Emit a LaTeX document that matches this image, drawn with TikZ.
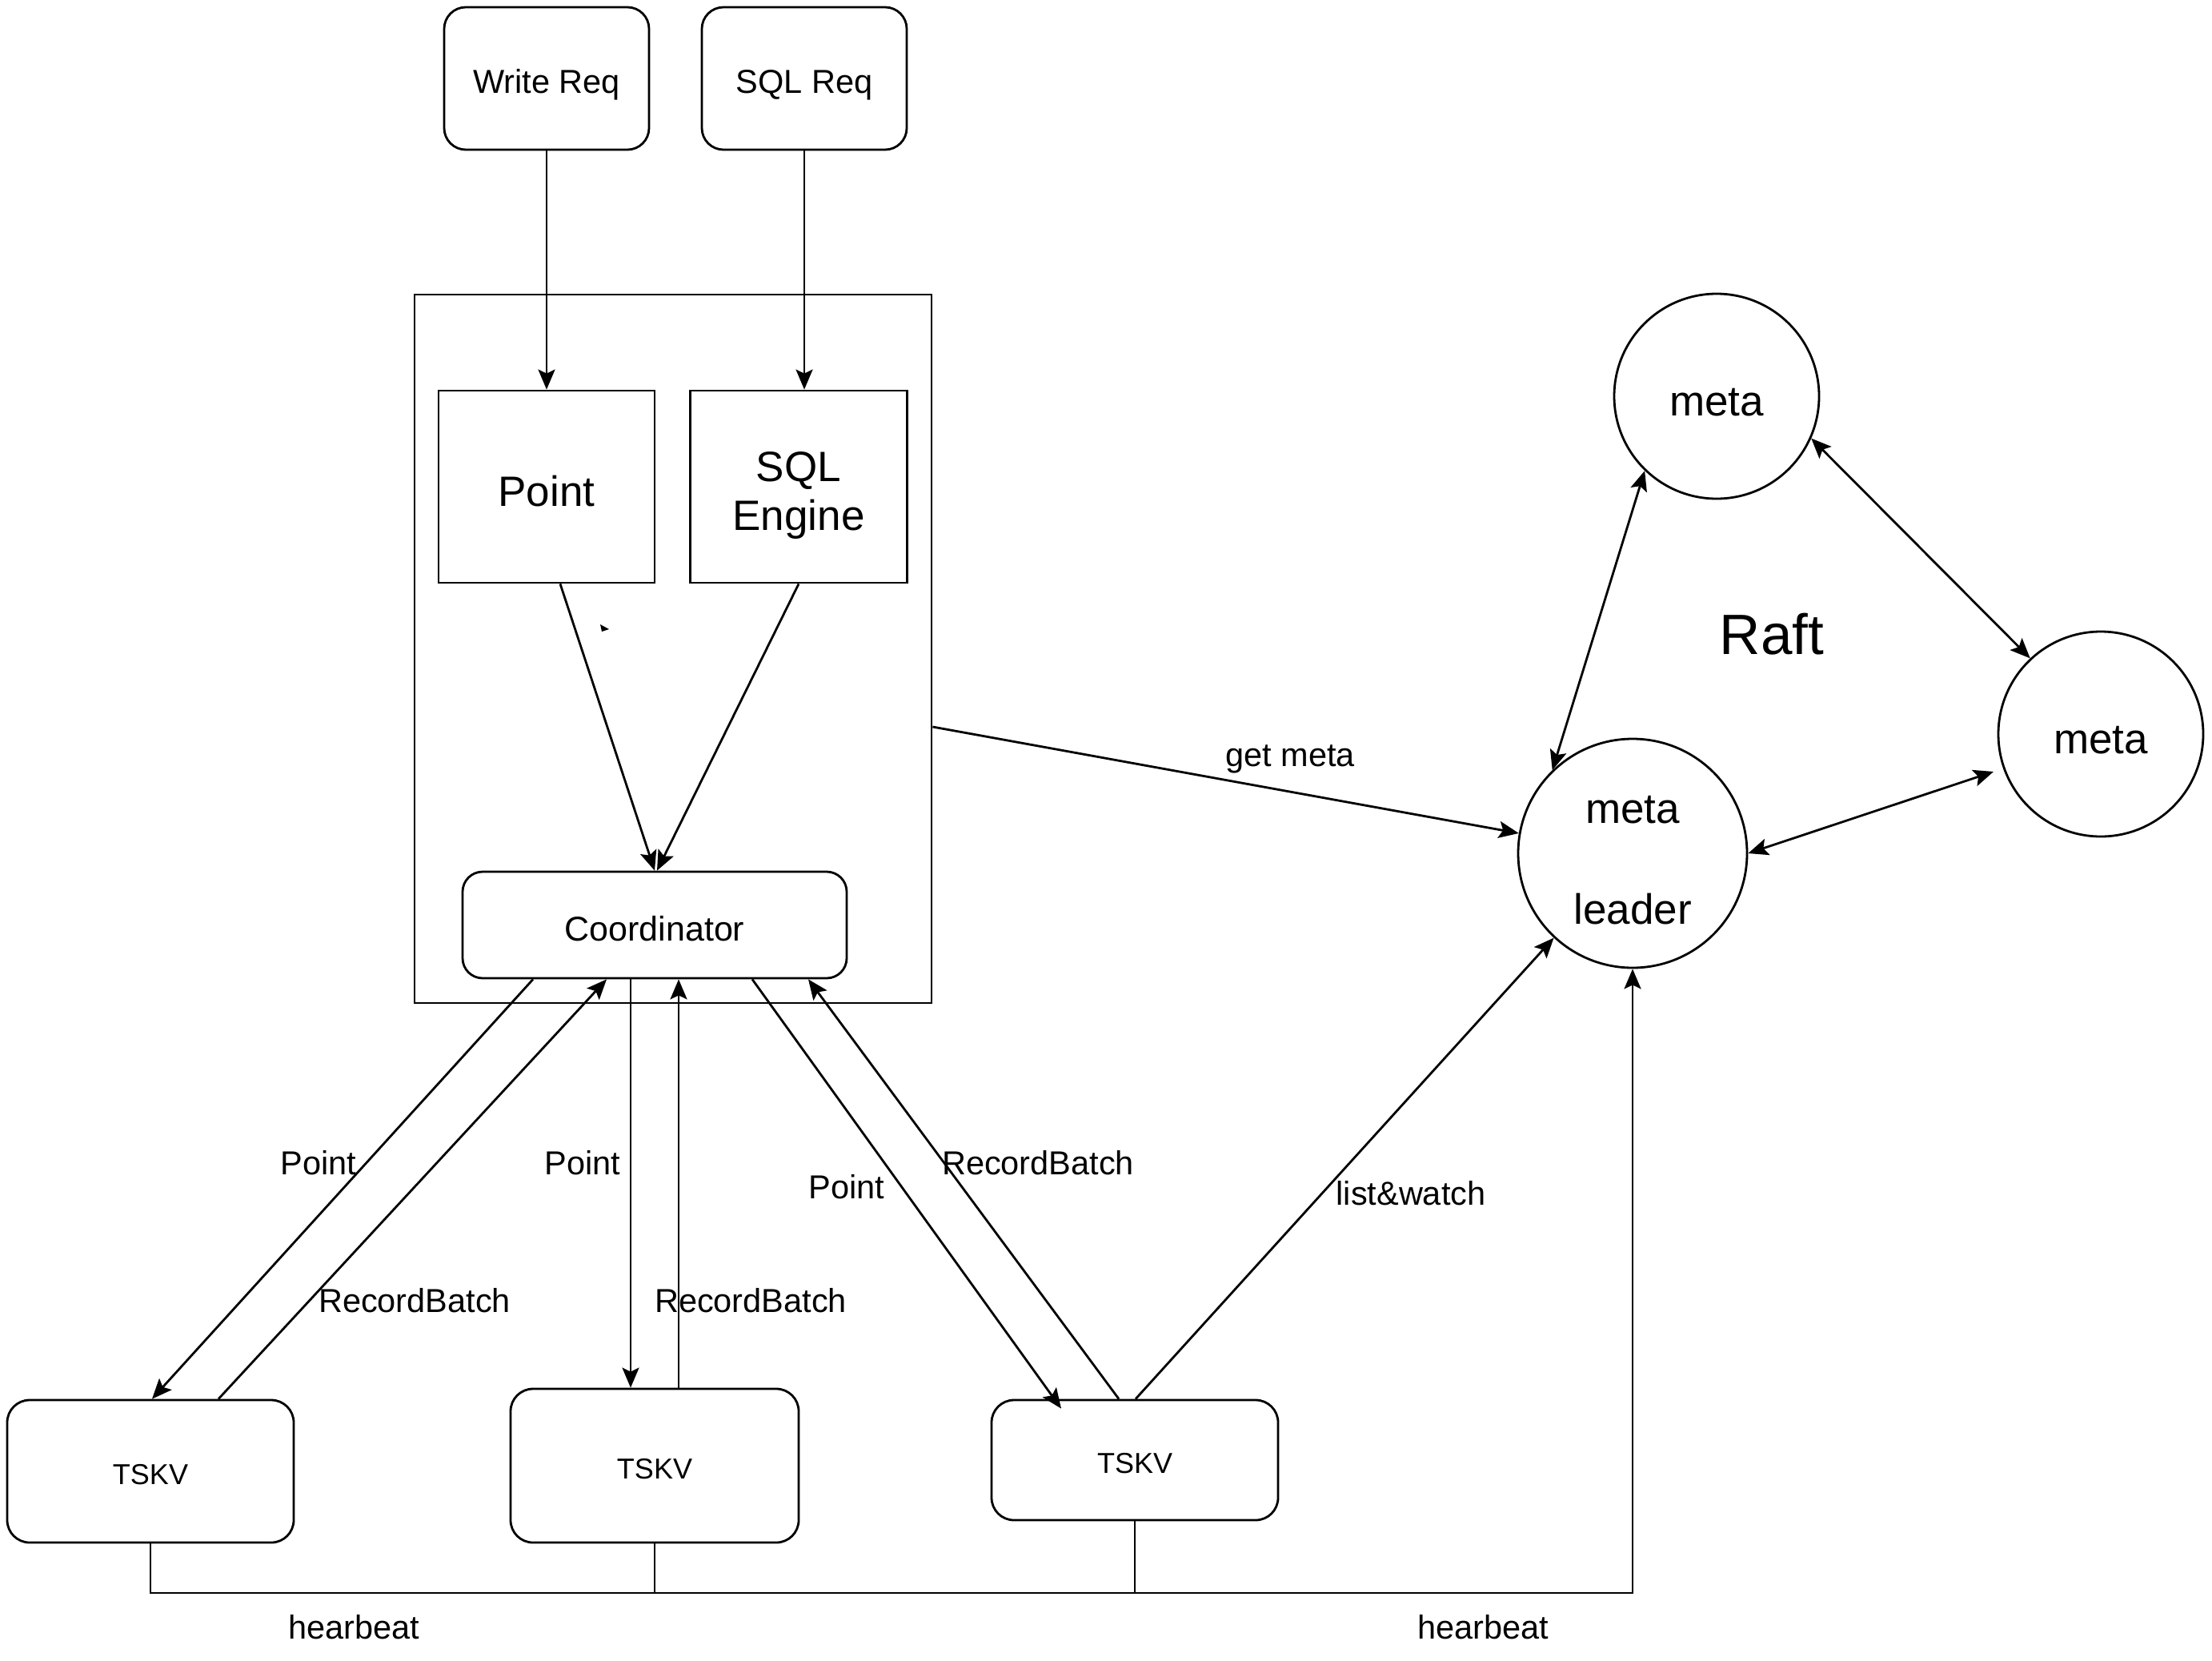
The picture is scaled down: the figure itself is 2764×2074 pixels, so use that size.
\documentclass[tikz,border=0pt]{standalone}
\usepackage{fontspec}
\setmainfont{Liberation Sans}
\usetikzlibrary{arrows.meta,calc}
\begin{document}
\begin{tikzpicture}[x=1pt,y=-1pt,
  lw/.style={line width=2.8pt},
  rbox/.style={draw,lw,rounded corners=27pt,inner sep=0pt,text height=38pt,text depth=0pt,font=\fontsize{41.5}{50}\selectfont},
  sbox/.style={draw,lw,inner sep=0pt,align=center,font=\fontsize{53}{61}\selectfont},
  circ/.style={draw,lw,circle,inner sep=0pt,align=center,font=\fontsize{53}{63}\selectfont},
  ctext/.style={text height=49pt,text depth=0pt},
  tsk/.style={rbox,rounded corners=28pt,text height=33pt,font=\fontsize{36}{44}\selectfont},
  lbl/.style={inner sep=0pt,font=\fontsize{41.5}{50}\selectfont},
  tip/.tip={Stealth[length=25pt,width=21pt,inset=5pt]},
  arr/.style={lw,-tip},
  darr/.style={lw,tip-tip},
]
\useasboundingbox (0,0) rectangle (2764,2074);
% top requests
\node[rbox,minimum width=256pt,minimum height=178pt] (wreq) at (683,98) {Write Req};
\node[rbox,minimum width=256pt,minimum height=178pt] (sreq) at (1005,98) {SQL Req};
% container
\node[draw,lw,minimum width=646pt,minimum height=885pt,inner sep=0pt] (cont) at (841,810.5) {};
\node[sbox,ctext,minimum width=270pt,minimum height=240pt] (point) at (683,608) {Point};
\node[sbox,minimum width=271pt,minimum height=240pt,
  label={[inner sep=0pt,align=center,font=\fontsize{53}{61}\selectfont,yshift=-11pt]center:{SQL\\Engine}}] (sqle) at (998,608) {};
\node[rbox,rounded corners=25pt,minimum width=480pt,minimum height=133pt,text height=40pt,font=\fontsize{43}{50}\selectfont] (coord) at (818,1155.5) {Coordinator};
\fill (750,780) -- (761,786) -- (752,789) -- cycle;
% meta cluster
\node[circ,ctext,minimum size=256pt] (meta1) at (2145,495) {meta};
\node[circ,ctext,minimum size=256pt] (meta2) at (2625,917) {meta};
\node[circ,minimum size=286pt,
  label={[inner sep=0pt,align=center,font=\fontsize{53}{63}\selectfont,yshift=-9pt]center:{meta\\[63pt]leader}}] (leader) at (2040,1066) {};
\node[inner sep=0pt,font=\fontsize{71}{80}\selectfont] (raft) at (2214,792) {Raft};
% TSKV
\node[tsk,minimum width=358pt,minimum height=178pt] (t1) at (188,1838) {TSKV};
\node[tsk,minimum width=360pt,minimum height=192pt] (t2) at (818,1831) {TSKV};
\node[tsk,minimum width=358pt,minimum height=150pt] (t3) at (1418,1824) {TSKV};
\coordinate (hb) at (0,1990);
% arrows top
\draw[arr] (wreq.south) -- (point.north);
\draw[arr] (sreq.south) -- ([xshift=7pt]sqle.north);
\draw[arr] ([xshift=17pt]point.south) -- (coord.north);
\draw[arr] (sqle.south) -- ([xshift=3pt]coord.north);
% get meta
\draw[arr] ([yshift=-97.5pt]cont.east) -- (leader.170) node[lbl,pos=0.61,above=22pt] {get meta};
% raft
\draw[darr] (leader.134) -- (meta1.226);
\draw[darr] (meta1.336) -- (meta2.133);
\draw[darr] (leader.0) -- ($(meta2.center)+(-134,47)$);
% coordinator <-> TSKV
\draw[arr] ([xshift=-152pt]coord.south) -- ([xshift=2pt]t1.north);
\draw[arr] ([xshift=85pt]t1.north) -- ([xshift=-60pt]coord.south);
\draw[arr] ([xshift=-30pt]coord.south) -- ([xshift=-30pt]t2.north);
\draw[arr] ([xshift=30pt]t2.north) -- ([xshift=30pt]coord.south);
\draw[arr] ([xshift=122pt]coord.south) -- ([xshift=-92pt,yshift=-12pt]t3.north);
\draw[arr] ([xshift=-20pt]t3.north) -- ([xshift=192pt]coord.south);
\draw[arr] ([xshift=1pt]t3.north) -- (leader.227);
% labels
\node[lbl] (lp1) at (398,1453) {Point};
\node[lbl] (lr1) at (518,1625) {RecordBatch};
\node[lbl] (lp2) at (728,1453) {Point};
\node[lbl] (lr2) at (938,1625) {RecordBatch};
\node[lbl] (lp3) at (1058,1483) {Point};
\node[lbl] (lr3) at (1297,1453) {RecordBatch};
\node[lbl] (llw) at (1763,1491) {list\&watch};
% heartbeat
\draw[lw] (t2.south) -- (t2.south |- hb);
\draw[lw] (t3.south) -- (t3.south |- hb);
\draw[arr] (t1.south) -- (t1.south |- hb) -- (hb -| leader.south) -- (leader.south);
\node[lbl] (hb1) at (442,2033) {hearbeat};
\node[lbl] (hb2) at (1853,2033) {hearbeat};
\end{tikzpicture}
\end{document}
